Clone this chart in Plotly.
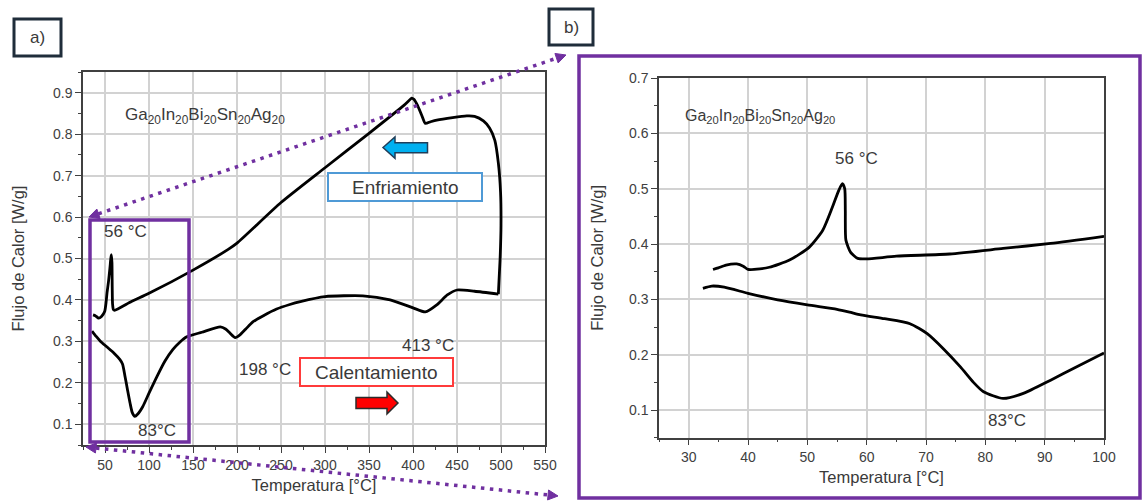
import math
import plotly.graph_objects as go

# ---------------- data ----------------
# Panel a) full DSC loop
a_heat_T = [35.2, 40, 45, 52, 60, 67, 70, 72.7, 75.5, 78.4, 81, 84, 87, 93, 100, 109, 118, 127,
            135, 143, 160, 181, 187, 192, 198, 203, 210, 218, 230, 245, 260, 272, 300, 343, 374,
            400, 414, 427, 439, 450, 470, 497]
a_heat_W = [0.325, 0.312, 0.300, 0.287, 0.272, 0.256, 0.245, 0.216, 0.184, 0.152, 0.128, 0.119,
            0.124, 0.143, 0.175, 0.215, 0.252, 0.280, 0.298, 0.311, 0.322, 0.335, 0.330, 0.320,
            0.309, 0.315, 0.330, 0.347, 0.362, 0.378, 0.389, 0.396, 0.408, 0.410, 0.400, 0.381,
            0.371, 0.388, 0.412, 0.424, 0.421, 0.414]
a_cool_T = [497, 499, 500, 499.5, 497, 493, 487, 480, 470, 461, 445, 427, 420, 414, 410, 405,
            401, 398.5, 395, 390, 350, 300, 250, 200, 190, 150, 100, 80, 61, 59.5, 58.6, 58.2,
            57.9, 57.2, 56.6, 55.5, 54, 52.3, 51, 49.6, 46, 42.8, 39, 36.4]
a_cool_W = [0.414, 0.500, 0.580, 0.660, 0.730, 0.785, 0.815, 0.832, 0.843, 0.844, 0.840, 0.834,
            0.830, 0.826, 0.845, 0.870, 0.884, 0.887, 0.880, 0.870, 0.802, 0.719, 0.635, 0.537,
            0.522, 0.472, 0.416, 0.396, 0.375, 0.377, 0.390, 0.430, 0.490, 0.509, 0.500, 0.475,
            0.445, 0.417, 0.390, 0.372, 0.360, 0.356, 0.362, 0.364]

# Panel b) zoom 25-100 degC
b_heat_T = [32.4, 33.9, 36, 40, 45, 50, 55, 57.1, 59, 63, 67.3, 70.2, 73, 75.8, 78, 79.7, 83,
            86.4, 91, 95, 100]
b_heat_W = [0.320, 0.324, 0.322, 0.311, 0.299, 0.290, 0.282, 0.277, 0.272, 0.265, 0.256, 0.238,
            0.210, 0.178, 0.150, 0.133, 0.121, 0.130, 0.154, 0.176, 0.203]
b_cool_T = [100, 91, 83, 74, 65, 60, 58.5, 57.3, 56.5, 56.4, 56.3, 55.9, 55.3, 54.2, 52.6, 50.3,
            47, 43.6, 42, 40, 39.2, 38.1, 36.3, 35, 34.1]
b_cool_W = [0.414, 0.401, 0.392, 0.382, 0.378, 0.373, 0.374, 0.385, 0.407, 0.460, 0.500, 0.509,
            0.497, 0.466, 0.425, 0.394, 0.371, 0.358, 0.355, 0.354, 0.360, 0.364, 0.362, 0.357,
            0.354]

a_label = "Ga<sub>20</sub>In<sub>20</sub>Bi<sub>20</sub>Sn<sub>20</sub>Ag<sub>20</sub>"
x_title = "Temperatura [°C]"
y_title = "Flujo de Calor [W/g]"

# ---------------- figure geometry helpers ----------------
W, H = 1143, 502
FONT = "Liberation Sans, Arial, sans-serif"
PURPLE = "#7030a0"
TXT = "#3a3a3a"


def fx(x):
    return x / W


def fy(y):
    return 1 - y / H


fig = go.Figure()

line_style = dict(color="black", width=2.8, shape="spline", smoothing=0.6)
fig.add_trace(go.Scatter(x=a_heat_T, y=a_heat_W, mode="lines", line=line_style,
                         xaxis="x", yaxis="y", name="Calentamiento", showlegend=False))
fig.add_trace(go.Scatter(x=a_cool_T, y=a_cool_W, mode="lines", line=line_style,
                         xaxis="x", yaxis="y", name="Enfriamiento", showlegend=False))
fig.add_trace(go.Scatter(x=b_heat_T, y=b_heat_W, mode="lines", line=line_style,
                         xaxis="x2", yaxis="y2", name="Calentamiento", showlegend=False))
fig.add_trace(go.Scatter(x=b_cool_T, y=b_cool_W, mode="lines", line=line_style,
                         xaxis="x2", yaxis="y2", name="Enfriamiento", showlegend=False))

axis_common = dict(
    showline=True, linecolor="#404040", linewidth=1.5, mirror=True,
    showgrid=True, gridcolor="#d2d2d2", gridwidth=1.5,
    ticks="outside", ticklen=6, tickwidth=1.3, tickcolor="#404040",
    tickfont=dict(family=FONT, size=14, color="#404040"),
    zeroline=False, automargin=False,
)
title_font = dict(family=FONT, size=16.5, color=TXT)

fig.update_layout(
    width=W, height=H,
    margin=dict(l=0, r=0, t=0, b=0, autoexpand=False),
    paper_bgcolor="white", plot_bgcolor="white",
    showlegend=False,
    xaxis=dict(axis_common, domain=[fx(83), fx(545)], range=[25, 550], dtick=50, tick0=0,
               minor=dict(ticks="outside", ticklen=3, dtick=25, tick0=0, showgrid=False,
                          tickcolor="#404040"),
               title=dict(text=x_title, font=title_font, standoff=8),
               anchor="y"),
    yaxis=dict(axis_common, domain=[fy(445), fy(72)], range=[0.05, 0.95], dtick=0.1, tick0=0,
               minor=dict(ticks="outside", ticklen=3, dtick=0.05, tick0=0, showgrid=False,
                          tickcolor="#404040"),
               title=dict(text=y_title, font=title_font, standoff=24),
               anchor="x"),
    xaxis2=dict(axis_common, domain=[fx(659), fx(1104)], range=[25, 100], dtick=10, tick0=0,
                minor=dict(ticks="outside", ticklen=3, dtick=5, tick0=0, showgrid=False,
                           tickcolor="#404040"),
                title=dict(text=x_title, font=title_font, standoff=7),
                anchor="y2"),
    yaxis2=dict(axis_common, domain=[fy(437.7), fy(78)], range=[0.05, 0.7], dtick=0.1, tick0=0,
                minor=dict(ticks="outside", ticklen=3, dtick=0.05, tick0=0, showgrid=False,
                           tickcolor="#404040"),
                title=dict(text=y_title, font=title_font, standoff=21),
                anchor="x2"),
)

shapes = []


def rect(x0, y0, x1, y1, color, width, fill="rgba(0,0,0,0)"):
    shapes.append(dict(type="rect", xref="paper", yref="paper", x0=fx(x0), x1=fx(x1),
                       y0=fy(y1), y1=fy(y0), line=dict(color=color, width=width),
                       fillcolor=fill, layer="above"))


def poly(points, fill, outline, width=1.5):
    path = "M " + " L ".join(f"{fx(x):.5f},{fy(y):.5f}" for x, y in points) + " Z"
    shapes.append(dict(type="path", xref="paper", yref="paper", path=path,
                       fillcolor=fill, line=dict(color=outline, width=width), layer="above"))


def dotted_arrow(p0, p1, L=10, Wd=10):
    dx, dy = p1[0] - p0[0], p1[1] - p0[1]
    n = math.hypot(dx, dy)
    ux, uy = dx / n, dy / n
    a = (p0[0] + ux * L, p0[1] + uy * L)
    b = (p1[0] - ux * L, p1[1] - uy * L)
    shapes.append(dict(type="line", xref="paper", yref="paper",
                       x0=fx(a[0]), y0=fy(a[1]), x1=fx(b[0]), y1=fy(b[1]),
                       line=dict(color=PURPLE, width=3.5, dash="3.5px,5.5px"), layer="above"))
    for tip, base in ((p1, b), (p0, a)):
        bx, by = base
        poly([tip, (bx - uy * Wd / 2, by + ux * Wd / 2), (bx + uy * Wd / 2, by - ux * Wd / 2)],
             PURPLE, PURPLE, 1)


# zoom rectangle in a) and frame around b)
rect(90, 220, 189, 442, PURPLE, 3.5)
rect(579, 56, 1140, 498, PURPLE, 3.5)
dotted_arrow((89, 217), (566, 55))
dotted_arrow((86, 447), (558, 496))

# panel tags
rect(14, 19, 61, 56, "#1f2d3a", 3, "white")
rect(549, 9, 593, 45, "#1f2d3a", 3, "white")

# process boxes
rect(328, 173, 482, 201, "#4f9ad6", 2, "white")
rect(300, 358, 453, 386, "#ff3b3b", 2, "white")

# block arrows
poly([(383, 147.5), (395, 137), (395, 142.7), (427.5, 142.7), (427.5, 152.7), (395, 152.7),
      (395, 158.3)], "#00b0f0", "#1f3e5a", 1.5)
poly([(398, 403), (387, 392), (387, 397.5), (356, 397.5), (356, 408.5), (387, 408.5),
      (387, 414)], "#ff0000", "#2b2b2b", 1.5)

annotations = []


def text(x, y, s, size=17, anchor="left"):
    annotations.append(dict(xref="paper", yref="paper", x=fx(x), y=fy(y), text=s,
                            showarrow=False, xanchor=anchor, yanchor="middle",
                            font=dict(family=FONT, size=size, color=TXT)))


text(37.5, 37.5, "a)", 17, "center")
text(571, 27.5, "b)", 17, "center")
text(123, 116, a_label, 17)
text(102, 231, "56 °C", 17)
text(136, 430, "83°C", 17)
text(237, 369, "198 °C", 17)
text(400, 345, "413 °C", 17)
text(405, 187, "Enfriamiento", 19, "center")
text(376.5, 372, "Calentamiento", 19, "center")
text(683, 116, a_label, 16)
text(833, 159, "56 °C", 17)
text(986, 420, "83°C", 17)

fig.update_layout(shapes=shapes, annotations=annotations)
fig.write_html(
    "out.html",
    config={"displayModeBar": False},
    post_script="document.documentElement.style.margin='0';"
                "document.body.style.margin='0';document.body.style.padding='0';"
                "document.body.style.overflow='hidden';",
)
